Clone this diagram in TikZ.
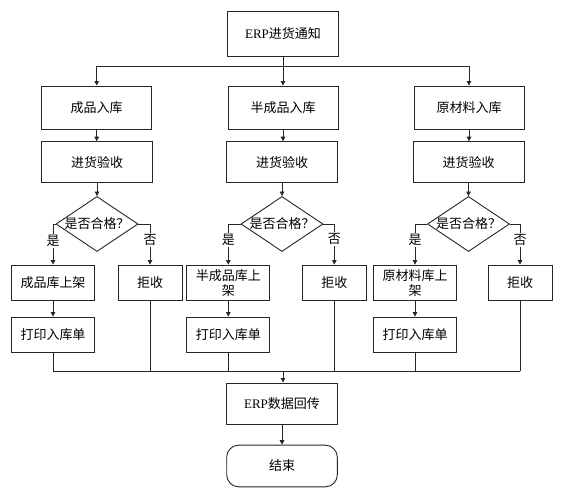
\documentclass[tikz,border=0pt]{standalone}
\usepackage{fontspec}
\setmainfont{Noto Sans CJK SC}
\newfontfamily\latinf{Liberation Serif}
\usetikzlibrary{arrows.meta,shapes.geometric}
\begin{document}
\begin{tikzpicture}[x=1pt,y=-1pt,
  every node/.style={font=\fontsize{13}{15}\selectfont, inner sep=0pt, align=center},
  box/.style={draw=black!85, line width=0.9pt, fill=white, minimum width=#1},
  box/.default=110pt,
  dia/.style={draw=black!85, line width=0.9pt, diamond, aspect=1.49, minimum width=82pt, minimum height=55pt},
  lbl/.style={fill=white, inner sep=1pt},
  conn/.style={draw=black!85, line width=0.9pt, -{Triangle[length=4.5pt,width=4.5pt]}},
  ln/.style={draw=black!85, line width=0.9pt}
]
\useasboundingbox (0,0) rectangle (566,503);
% top
\node[box=111pt, minimum height=45pt] (top) at (283,33.5) {{\latinf ERP}进货通知};
\coordinate (split) at (283,66);
% row 2
\node[box, minimum height=43pt] (a1) at (96.7,107.5) {成品入库};
\node[box, minimum height=43pt] (b1) at (283,107.5) {半成品入库};
\node[box, minimum height=43pt] (c1) at (469,107.5) {原材料入库};
% row 3
\node[box=111pt, minimum height=41pt] (a2) at (97,162.2) {进货验收};
\node[box=111pt, minimum height=41pt] (b2) at (282,162.2) {进货验收};
\node[box=111pt, minimum height=41pt] (c2) at (468.5,162.2) {进货验收};
% diamonds
\node[dia] (a3) at (97,224) {};
\node[dia] (b3) at (282,224) {};
\node[dia] (c3) at (468.5,224) {};
\node at (a3.center) {是否合格？};
\node at (b3.center) {是否合格？};
\node at (c3.center) {是否合格？};
% yes boxes
\node[box=83pt, minimum height=35.5pt] (a4) at (53,282.8) {成品库上架};
\node[box=83pt, minimum height=35.5pt] (b4) at (228.3,282.8) {半成品库上\\架};
\node[box=83pt, minimum height=35.5pt] (c4) at (415,282.8) {原材料库上\\架};
% reject boxes
\node[box=64pt, minimum height=35.5pt] (a5) at (150,282.8) {拒收};
\node[box=64pt, minimum height=35.5pt] (b5) at (334.3,282.8) {拒收};
\node[box=64pt, minimum height=35.5pt] (c5) at (520,282.8) {拒收};
% print boxes
\node[box=83pt, minimum height=35.3pt] (a6) at (53,334.7) {打印入库单};
\node[box=83pt, minimum height=35.3pt] (b6) at (228.3,334.7) {打印入库单};
\node[box=83pt, minimum height=35.3pt] (c6) at (415,334.7) {打印入库单};
% merge
\coordinate (mL) at (53,371);
\coordinate (mR) at (520,371);
\coordinate (mC) at (283,371);
\node[box=110.6pt, minimum height=41pt] (erp) at (282,403.5) {{\latinf ERP}数据回传};
\node[box=110.6pt, minimum height=41.7pt, rounded corners=12pt] (end) at (282,466) {结束};

% connectors top
\draw[ln] (top.south) -- (split);
\draw[ln] (a1.north |- split) -- (c1.north |- split);
\draw[conn] (a1.north |- split) -- (a1.north);
\draw[conn] (split) -- (b1.north);
\draw[conn] (c1.north |- split) -- (c1.north);
\draw[conn] (a1.south) -- (a1.south |- a2.north);
\draw[conn] (b1.south) -- (b1.south |- b2.north);
\draw[conn] (c1.south) -- (c1.south |- c2.north);
\draw[conn] (a2.south -| a3.north) -- (a3.north);
\draw[conn] (b2.south -| b3.north) -- (b3.north);
\draw[conn] (c2.south -| c3.north) -- (c3.north);
% branches
\foreach \d/\y/\n in {a3/a4/a5, b3/b4/b5, c3/c4/c5}{
  \draw[conn] (\d.west) -| (\y.north);
  \draw[conn] (\d.east) -| (\n.north);
}
\foreach \y/\p in {a4/a6, b4/b6, c4/c6}{
  \draw[conn] (\y.south) -- (\p.north);
}
% labels yes/no
\node[lbl] at (53,241) {是};
\node[lbl] at (150,240) {否};
\node[lbl] at (228.3,240) {是};
\node[lbl] at (334.3,239) {否};
\node[lbl] at (415,240) {是};
\node[lbl] at (520,240) {否};
% merge lines
\foreach \p in {a6,b6,c6,a5,b5,c5}{
  \draw[ln] (\p.south) -- (\p.south |- mL);
}
\draw[ln] (mL) -- (mR);
\draw[conn] (mC) -- (erp.north -| mC);
\draw[conn] (erp.south) -- (end.north);
\end{tikzpicture}
\end{document}
